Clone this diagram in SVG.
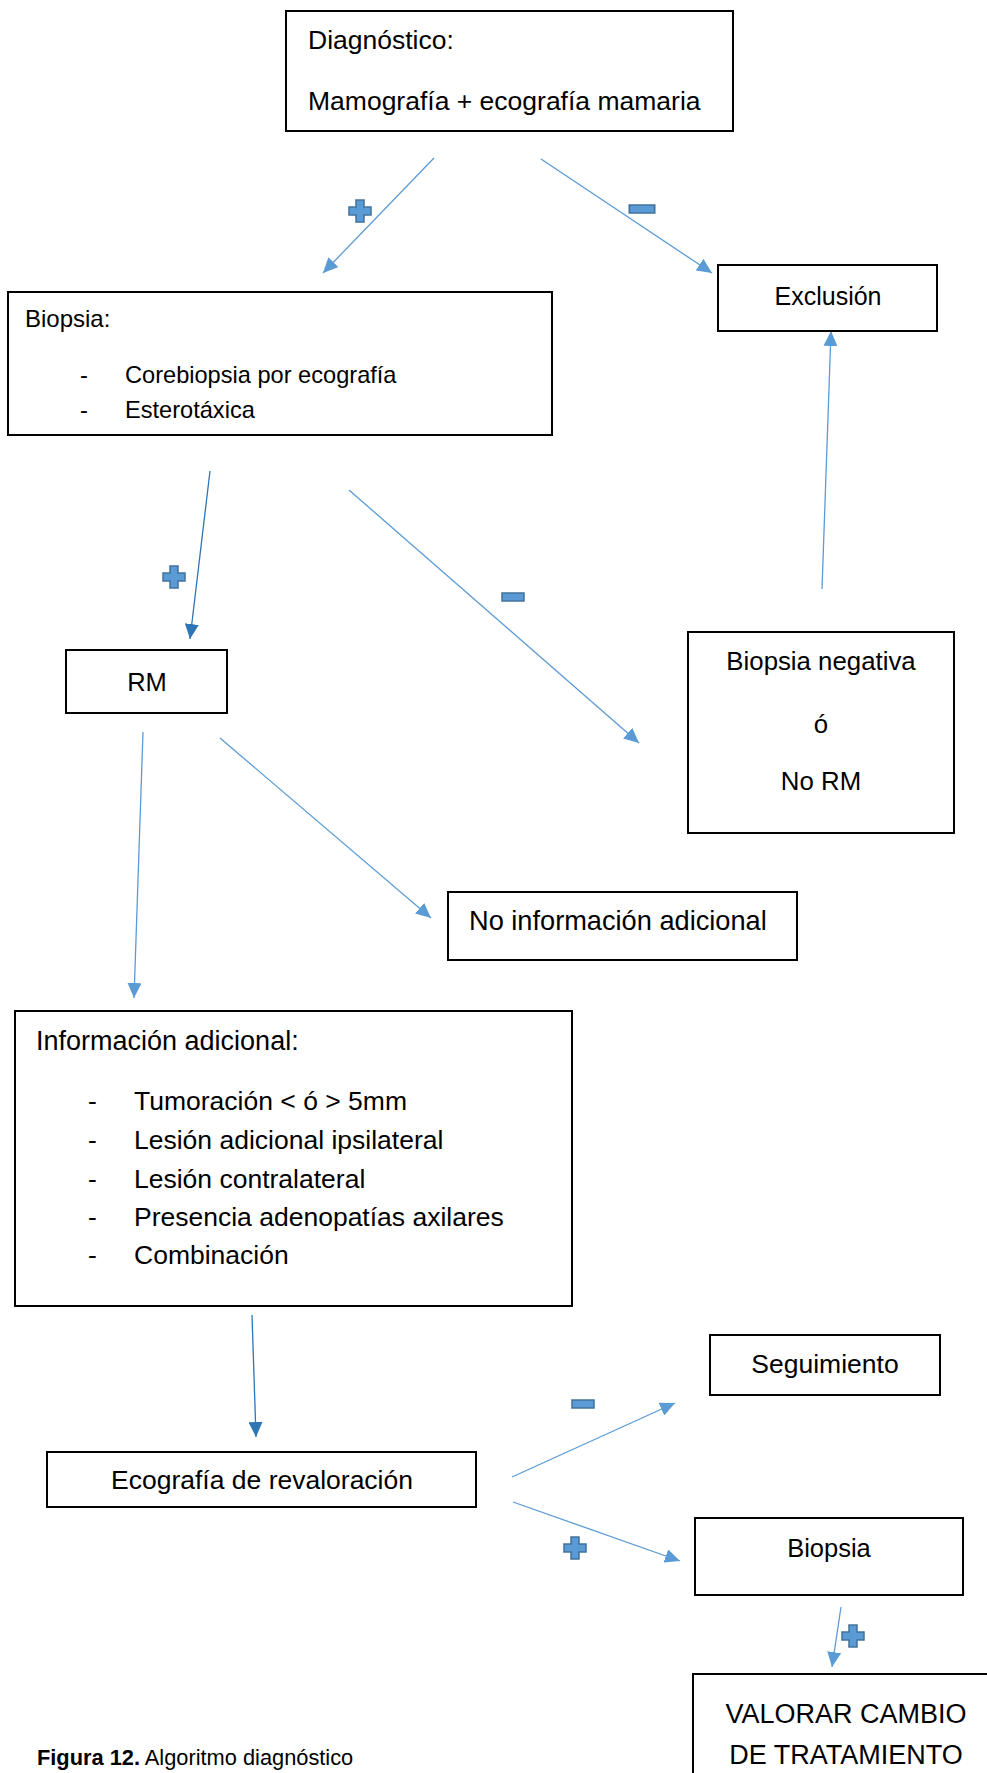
<svg xmlns="http://www.w3.org/2000/svg" xmlns:xlink="http://www.w3.org/1999/xlink" width="987" height="1773" viewBox="0 0 987 1773">
<style>
.box{fill:#fff;stroke:#000;stroke-width:2}
text{font-family:"Liberation Sans",Arial,sans-serif;fill:#000}
.c{text-anchor:middle}
.ln{stroke:#5B9BD5;stroke-width:1.3;fill:none;marker-end:url(#ah)}
.dk{stroke:#2E75B6;marker-end:url(#ahd)}
.sign{fill:#5B9BD5;stroke:#41719C;stroke-width:1.5}
</style>
<defs>
<marker id="ah" markerUnits="userSpaceOnUse" markerWidth="16" markerHeight="14" refX="15" refY="7" orient="auto"><path d="M0,0 L15,7 L0,14 Z" fill="#5B9BD5"/></marker>
<marker id="ahd" markerUnits="userSpaceOnUse" markerWidth="16" markerHeight="14" refX="15" refY="7" orient="auto"><path d="M0,0 L15,7 L0,14 Z" fill="#2E75B6"/></marker>
<path id="plus" class="sign" d="M-4,-11 H4 V-4 H11 V4 H4 V11 H-4 V4 H-11 V-4 H-4 Z"/>
<rect id="minus" class="sign" x="-11" y="-4" width="22" height="8"/>
</defs>
<rect width="987" height="1773" fill="#fff"/>

<g id="connectors">
<line class="ln" x1="434" y1="158" x2="323" y2="273"/>
<line class="ln" x1="541" y1="159" x2="712" y2="273"/>
<line class="ln dk" x1="210" y1="471" x2="190" y2="639"/>
<line class="ln" x1="349" y1="490" x2="639" y2="743"/>
<line class="ln" x1="822" y1="589" x2="831" y2="331"/>
<line class="ln" x1="143" y1="732" x2="134" y2="998"/>
<line class="ln" x1="220" y1="738" x2="431" y2="918"/>
<line class="ln dk" x1="252" y1="1315" x2="256" y2="1437"/>
<line class="ln" x1="512" y1="1477" x2="675" y2="1403"/>
<line class="ln" x1="513" y1="1502" x2="680" y2="1561"/>
<line class="ln" x1="841" y1="1607" x2="832" y2="1667"/>
<use xlink:href="#plus" x="360" y="211"/>
<use xlink:href="#minus" x="642" y="209" transform="translate(642 209) scale(1.15 1) translate(-642 -209)"/>
<use xlink:href="#plus" x="174" y="577"/>
<use xlink:href="#minus" x="513" y="597"/>
<use xlink:href="#minus" x="583" y="1404"/>
<use xlink:href="#plus" x="575" y="1548"/>
<use xlink:href="#plus" x="853" y="1636"/>
</g>

<g id="diagnostico">
<rect class="box" x="286" y="11" width="447" height="120"/>
<text x="308" y="49" font-size="26.5">Diagnóstico:</text>
<text x="308" y="110" font-size="26.5">Mamografía + ecografía mamaria</text>
</g>

<g id="exclusion">
<rect class="box" x="718" y="265" width="219" height="66"/>
<text class="c" x="828" y="305" font-size="25">Exclusión</text>
</g>

<g id="biopsia">
<rect class="box" x="8" y="292" width="544" height="143"/>
<text x="25" y="327" font-size="24">Biopsia:</text>
<text x="80" y="383" font-size="23.6">-</text>
<text x="125" y="383" font-size="23.6">Corebiopsia por ecografía</text>
<text x="80" y="418" font-size="23.6">-</text>
<text x="125" y="418" font-size="23.6">Esterotáxica</text>
</g>

<g id="rm">
<rect class="box" x="66" y="650" width="161" height="63"/>
<text class="c" x="147" y="691" font-size="25.5">RM</text>
</g>

<g id="biopsia-negativa">
<rect class="box" x="688" y="632" width="266" height="201"/>
<text class="c" x="821" y="670" font-size="25.8">Biopsia negativa</text>
<text class="c" x="821" y="733" font-size="25.8">ó</text>
<text class="c" x="821" y="790" font-size="25.8">No RM</text>
</g>

<g id="no-informacion">
<rect class="box" x="448" y="892" width="349" height="68"/>
<text x="469" y="930" font-size="27.2">No información adicional</text>
</g>

<g id="informacion">
<rect class="box" x="15" y="1011" width="557" height="295"/>
<text x="36" y="1050" font-size="27">Información adicional:</text>
<text x="88" y="1110" font-size="26.5">-</text>
<text x="134" y="1110" font-size="26.5">Tumoración &lt; ó &gt; 5mm</text>
<text x="88" y="1149" font-size="26.5">-</text>
<text x="134" y="1149" font-size="26.5">Lesión adicional ipsilateral</text>
<text x="88" y="1188" font-size="26.5">-</text>
<text x="134" y="1188" font-size="26.5">Lesión contralateral</text>
<text x="88" y="1226" font-size="26.5">-</text>
<text x="134" y="1226" font-size="26.5">Presencia adenopatías axilares</text>
<text x="88" y="1264" font-size="26.5">-</text>
<text x="134" y="1264" font-size="26.5">Combinación</text>
</g>

<g id="ecografia">
<rect class="box" x="47" y="1452" width="429" height="55"/>
<text class="c" x="262" y="1489" font-size="26.5">Ecografía de revaloración</text>
</g>

<g id="seguimiento">
<rect class="box" x="710" y="1335" width="230" height="60"/>
<text class="c" x="825" y="1373" font-size="26.5">Seguimiento</text>
</g>

<g id="biopsia2">
<rect class="box" x="695" y="1518" width="268" height="77"/>
<text class="c" x="829" y="1557" font-size="25.5">Biopsia</text>
</g>

<g id="valorar">
<rect class="box" x="693" y="1674" width="300" height="130"/>
<text class="c" x="846" y="1723" font-size="27">VALORAR CAMBIO</text>
<text class="c" x="846" y="1764" font-size="27">DE TRATAMIENTO</text>
</g>

<g id="caption">
<text x="37" y="1765" font-size="21.8"><tspan font-weight="bold">Figura 12.</tspan> Algoritmo diagnóstico</text>
</g>
</svg>
